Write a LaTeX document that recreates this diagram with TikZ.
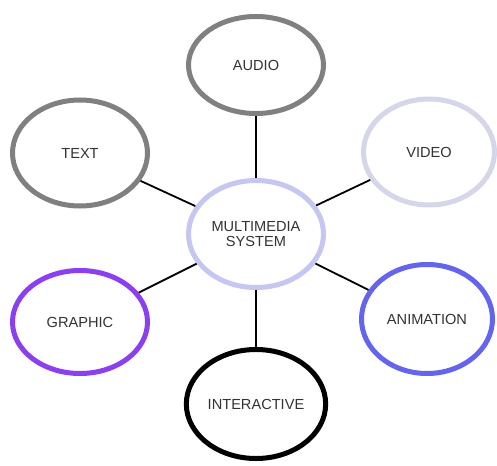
\documentclass[tikz,border=0pt]{standalone}
\usepackage{fontspec}
\setmainfont{Liberation Sans}
\usepackage{tikz}
\usetikzlibrary{shapes.geometric}
\definecolor{grau}{HTML}{808080}
\definecolor{lavendel}{HTML}{D6D6EA}
\definecolor{mitte}{HTML}{C6C6F2}
\definecolor{lila}{HTML}{8B3FEF}
\definecolor{blau}{HTML}{6464EC}
\definecolor{schrift}{HTML}{333333}
\tikzset{kreis/.style={ellipse,draw,line width=5pt,fill=white,text=schrift,inner sep=1pt,
		font=\fontsize{14.6}{15.5}\selectfont,align=center,minimum width=135pt,minimum height=106pt},
	linie/.style={draw=black,line width=1.8pt} }

\begin{document}
\begin{tikzpicture}[x=1pt,y=-1pt]
	\useasboundingbox (0,0) rectangle (497,465);
	
	\node (m) [kreis, draw=mitte, minimum height=107pt] at (256,234) {MULTIMEDIA\\SYSTEM};
	\node (audio) [kreis, draw=grau, minimum height=97pt] at (256,65) {AUDIO};
	\node (text) [kreis, draw=grau] at (80,153) {TEXT};
	\node (video) [kreis, draw=lavendel, minimum width=131pt] at (429,152) {VIDEO};
	\node (graphic) [kreis, draw=lila, minimum height=103pt] at (80,322) {GRAPHIC};
	\node (animation) [kreis, draw=blau, minimum width=131pt, minimum height=109pt] at (427,319) {ANIMATION};
	\node (inter) [kreis, draw=black, minimum height=109pt] at (256,404) {INTERACTIVE};
	
	\foreach \z in {audio,text,video,graphic,animation,inter}
		\path [linie] (m) -- (\z);
\end{tikzpicture}
\end{document}
